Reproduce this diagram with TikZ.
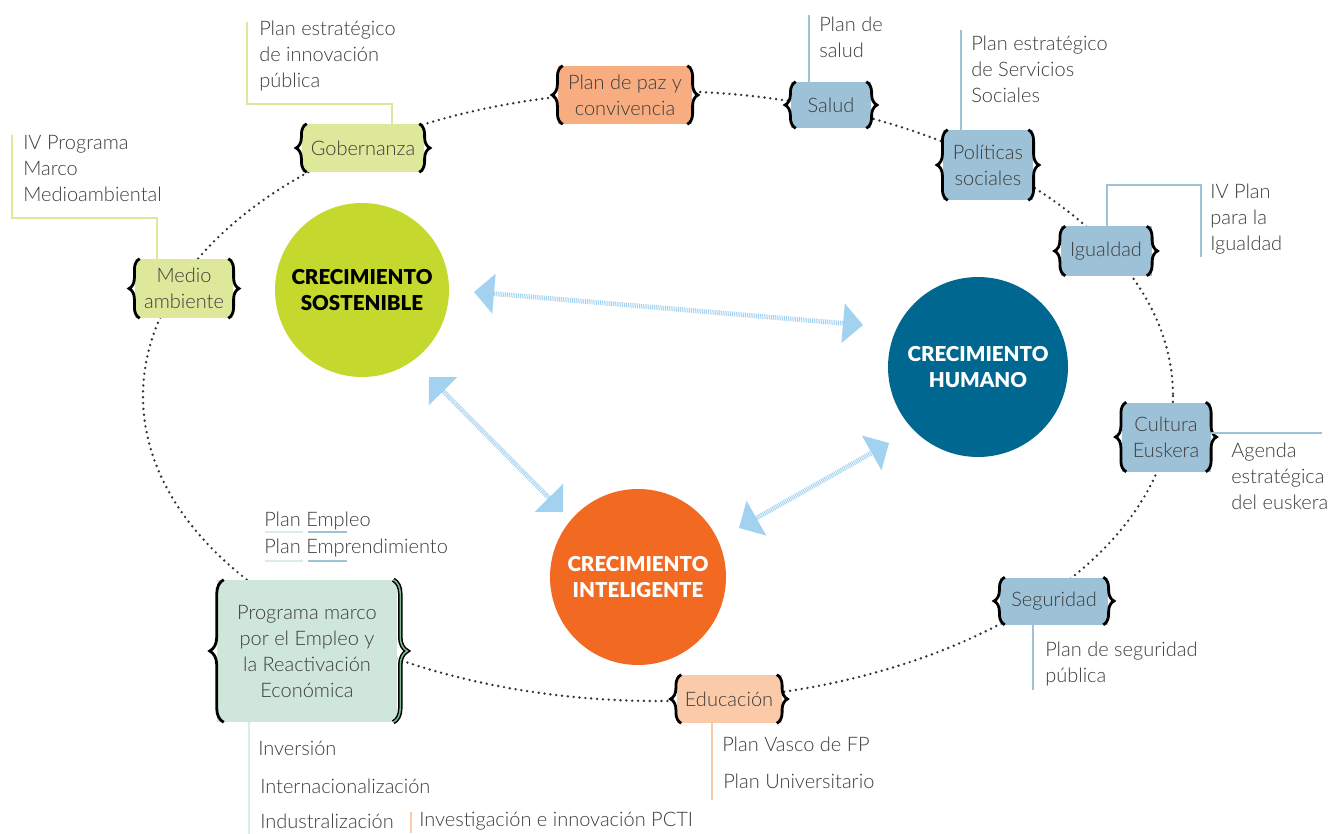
\documentclass[tikz,border=0pt]{standalone}
\usepackage{fontspec}
\usetikzlibrary{arrows.meta,decorations.pathreplacing,calc}
\IfFontExistsTF{Lato Light}{\setmainfont{Lato Light}}{\setmainfont{Lato}}
\IfFontExistsTF{Lato Black}{\newfontfamily\heavyfont{Lato Black}}{\newfontfamily\heavyfont{Lato Bold}}
\definecolor{txt}{HTML}{3C3C3C}
\definecolor{lime}{HTML}{C5D82E}
\definecolor{teal}{HTML}{006890}
\definecolor{orng}{HTML}{F26A22}
\definecolor{bgreen}{HTML}{DEE89B}
\definecolor{borange}{HTML}{F8AD80}
\definecolor{bblue}{HTML}{9DC2D8}
\definecolor{bpeach}{HTML}{FBCAA9}
\definecolor{bmint}{HTML}{CFE7DA}
\definecolor{lmint}{HTML}{DCEEE4}
\definecolor{arrblue}{HTML}{A3D2F1}
\definecolor{dotgray}{HTML}{333333}
\definecolor{bracegreen}{HTML}{7DBE97}
\tikzset{
  every node/.style={inner sep=0pt, text=txt, font=\fontsize{15}{19.5}\selectfont},
  box/.style n args={3}{fill=#1, minimum width={#2*0.75pt}, minimum height={#3*0.75pt}, align=center},
  brc/.style={draw=black, line width=2.1pt, decorate, decoration={brace, amplitude=#1}},
  brc/.default=8pt,
  co/.style={draw=#1, line width=2pt},
  dots/.style={draw=dotgray, line width=2pt, line cap=round, dash pattern=on 0pt off 4.4pt},
  arr/.style={draw=arrblue, line width=3.6pt, dash pattern=on 0.7pt off 0.7pt,
    {Triangle[length=15pt,width=30pt,line width=0pt]}-{Triangle[length=15pt,width=30pt,line width=0pt]}},
  big/.style={circle, minimum size={#1*0.75pt}, align=center, font=\heavyfont\fontsize{15.4}{20}\selectfont},
  lbl/.style={anchor=west, align=left},
}
\newcommand\boxbraces[1]{%
  \draw[brc] ($(#1.south west)+(5,0)$) -- ($(#1.north west)+(5,0)$);
  \draw[brc] ($(#1.north east)+(-5,0)$) -- ($(#1.south east)+(-5,0)$);}
\begin{document}
\begin{tikzpicture}[x=0.75pt,y=-0.75pt]
\useasboundingbox (0,0) rectangle (1330,834);
% dotted ellipse
\draw[dots] (658,396) ellipse [x radius=515, y radius=305];

% big circles
\node[big=174, fill=lime, text=black] (sost) at (362,290) {CRECIMIENTO\\SOSTENIBLE};
\node[big=180, fill=teal, text=white] (hum) at (978,367) {CRECIMIENTO\\HUMANO};
\node[big=176, fill=orng, text=white] (intel) at (638,577) {CRECIMIENTO\\INTELIGENTE};

% arrows
\coordinate (a1s) at (474,292); \coordinate (a1e) at (863,325);
\coordinate (a2s) at (429,377); \coordinate (a2e) at (563,512);
\coordinate (a3s) at (739,528); \coordinate (a3e) at (889,443);
\draw[arr] (a1s) -- (a1e);
\draw[arr] (a2s) -- (a2e);
\draw[arr] (a3s) -- (a3e);

% boxes
\node[box={bgreen}{122}{48}] (gob) at (363,148) {Gobernanza};
\node[box={bgreen}{98}{59}] (med) at (184,288.5) {Medio\\ambiente};
\node[box={borange}{134}{58}] (paz) at (625,95) {Plan de paz y\\convivencia};
\node[box={bblue}{80}{46}] (sal) at (831,105) {Salud};
\node[box={bblue}{90}{70}] (pol) at (988,165) {Políticas\\sociales};
\node[box={bblue}{91}{49}] (igu) at (1106,251) {Igualdad};
\node[box={bblue}{89}{69}] (cul) at (1166,437) {Cultura\\Euskera};
\node[box={bblue}{108}{47}] (seg) at (1054,601) {Seguridad};
\node[box={bpeach}{105}{48}] (edu) at (729,699) {Educación};
\node[box={bmint}{180}{142}] (prog) at (307,651) {Programa marco\\por el Empleo y\\la Reactivación\\Económica};

\foreach \b in {gob,med,paz,sal,pol,igu,cul,seg,edu}{\boxbraces{\b}}
\draw[brc=10.5pt] ($(prog.south west)+(7,0)$) -- ($(prog.north west)+(7,0)$);
\draw[brc=10.5pt, line width=3.4pt] ($(prog.north east)+(-4,0)$) -- ($(prog.south east)+(-4,0)$);
\draw[brc=10.5pt, draw=bracegreen, line width=1.1pt] ($(prog.north east)+(-4,0)$) -- ($(prog.south east)+(-4,0)$);

% callouts
\coordinate (g1) at (392,104);
\draw[co=bgreen] (g1 |- gob.north) -- (g1) -- (247,104) -- (247,22);
\node[lbl] (tgob) at (259,56) {Plan estratégico\\de innovación\\pública};

\coordinate (m1) at (157,218);
\draw[co=bgreen] (m1 |- med.north) -- (m1) -- (12,218) -- (12,135);
\node[lbl] (tmed) at (23,169) {IV Programa\\Marco\\Medioambiental};

\coordinate (s1) at (809,15);
\draw[co=bblue] (s1 |- sal.north) -- (s1);
\node[lbl] (tsal) at (819,37.5) {Plan de\\salud};

\coordinate (p1) at (961,30);
\draw[co=bblue] (p1 |- pol.north) -- (p1);
\node[lbl] (tpol) at (971,69) {Plan estratégico\\de Servicios\\Sociales};

\coordinate (i1) at (1107,185);
\draw[co=bblue] (i1 |- igu.north) -- (i1) -- (1201,185) -- (1201,257);
\node[lbl] (tigu) at (1210,219) {IV Plan\\para la\\Igualdad};

\coordinate (c1) at (1322,433);
\draw[co=bblue] (cul.east |- c1) -- (c1);
\node[lbl] (tcul) at (1231,476) {Agenda\\estratégica\\del euskera};

\coordinate (e1) at (1033,690);
\draw[co=bblue] (e1 |- seg.south) -- (e1);
\node[lbl] (tseg) at (1045,664) {Plan de seguridad\\pública};

\coordinate (d1) at (712,800);
\draw[co=bpeach] (d1 |- edu.south) -- (d1);
\node[lbl] (tedu1) at (722,744) {Plan Vasco de FP};
\node[lbl] (tedu2) at (723,781) {Plan Universitario};

\coordinate (r1) at (249,834);
\draw[co=lmint] (r1 |- prog.south) -- (r1);
\node[lbl] (tinv) at (258,748) {Inversión};
\node[lbl] (tint) at (260,786) {Internacionalización};
\node[lbl] (tind) at (260,821) {Industralización};

\coordinate (k1) at (411,812); \coordinate (k2) at (411,833);
\draw[co=bpeach] (k1) -- (k2);
\node[lbl] (tpcti) at (419,821) {Investigación e innovación PCTI};

\node[lbl] (temp1) at (264,521) {Plan Empleo};
\node[lbl] (temp2) at (264,548) {Plan Emprendimiento};
\draw[co=lmint] (265,532) -- (303,532);
\draw[co=bblue] (308,532) -- (347,532);
\draw[co=lmint] (265,561) -- (303,561);
\draw[co=bblue] (308,561) -- (347,561);
\end{tikzpicture}
\end{document}
